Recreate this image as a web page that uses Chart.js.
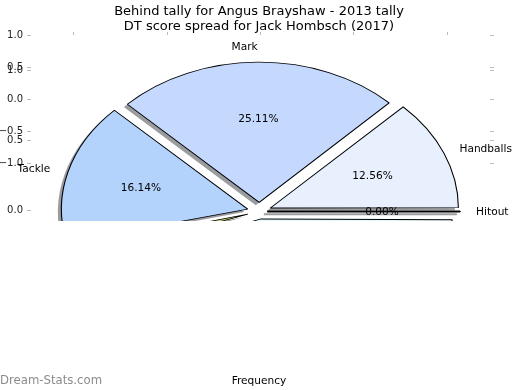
<!DOCTYPE html>
<html>
<head>
<meta charset="utf-8">
<script src="https://cdn.jsdelivr.net/npm/chart.js@4.4.0/dist/chart.umd.min.js"></script>
<style>
  body { margin: 0; background: #fff; }
  #wrap { position: relative; width: 520px; height: 390px; overflow: hidden; font-family: "DejaVu Sans", sans-serif; }
  canvas { position: absolute; left: 0; top: 0; }
  .clip { position: absolute; left: 0; top: 0; width: 520px; height: 221px; overflow: hidden; }
  .txt { position: absolute; white-space: nowrap; color: #000; }
</style>
</head>
<body>
<div id="wrap">
  <canvas id="axesA" width="520" height="390"></canvas>
  <div class="clip"><canvas id="axesB" width="520" height="390"></canvas></div>
  <div class="clip"><canvas id="pie" width="520" height="390"></canvas></div>
  <div class="txt" style="left:0;width:518px;top:2.5px;text-align:center;font-size:13px;line-height:15px;">Behind tally for Angus Brayshaw - 2013 tally<br>DT score spread for Jack Hombsch (2017)</div>
  <div class="txt" style="left:0;width:518px;top:373px;text-align:center;font-size:10.6px;line-height:14px;">Frequency</div>
  <div class="txt" style="left:0;top:372px;font-size:11.7px;line-height:16px;color:#8c8c8c;">Dream-Stats.com</div>
</div>
<script>
// pie values (percent of total), counter-clockwise from 3 o'clock
const categories = ["Hitout", "Handballs", "Mark", "Tackle", "Goal", "Kick"];
const shares = [0.002, 12.56, 25.11, 16.14, 1.80, 44.39];

// leftover axis ticks
const yTickValues = [-1, -0.5, 0, 0.5, 1];
const xTickValues = [-1, -0.5, 0, 0.5, 1];

const sliceColors = ["#d9d9d9", "#e9f0fd", "#c5d8fd", "#b4d3fc", "#c8d67e", "#e0fbfb"];
const sliceOffsets = [32, 48, 48, 48, 48, 40];
const SQUASH = 0.76;
const EXPLODE = 12;

const tickFont = { family: "DejaVu Sans", size: 10 };
const fmtTick = v => v.toFixed(1).replace("-", "\u2212");
const setTicks = vals => s => { s.ticks = vals.map(v => ({ value: v })); };

function makeAxes(id, padTop, padBottom, topTicks) {
  const marks = { drawOnChartArea: false, drawTicks: true, tickLength: 4, color: "#bbb" };
  new Chart(document.getElementById(id), {
    type: "scatter",
    data: { datasets: [] },
    options: {
      responsive: false,
      animation: false,
      events: [],
      layout: { padding: { top: padTop, bottom: padBottom, left: 0, right: 26 } },
      plugins: { legend: { display: false }, tooltip: { enabled: false } },
      scales: {
        x: {
          type: "linear", position: "top", display: topTicks,
          min: -1.23, max: 1.23,
          afterBuildTicks: setTicks(xTickValues),
          afterFit: s => { s.height = 0; },
          ticks: { display: false },
          grid: Object.assign({}, marks, { tickLength: 3 }),
          border: { display: false }
        },
        y: {
          type: "linear", position: "left", min: -1, max: 1,
          afterBuildTicks: setTicks(yTickValues),
          afterFit: s => { s.width = 31; },
          ticks: { font: tickFont, color: "#222", padding: 4, callback: fmtTick },
          grid: marks,
          border: { display: false }
        },
        y2: {
          type: "linear", position: "right", min: -1, max: 1,
          afterBuildTicks: setTicks(yTickValues),
          afterFit: s => { s.width = 4; },
          ticks: { display: false },
          grid: marks,
          border: { display: false }
        }
      }
    }
  });
}

makeAxes("axesA", 35, 227, true);
makeAxes("axesB", 70, 40, false);

// squash the pie into an ellipse, lay a drop shadow under the wedges, then write the labels
const ellipse = {
  id: "ellipse",
  beforeDatasetsDraw(chart) {
    const ctx = chart.ctx;
    const arcs = chart.getDatasetMeta(0).data;
    const a = arcs[0];
    ctx.save();
    ctx.translate(a.x, a.y);
    ctx.scale(1, SQUASH);
    ctx.translate(-a.x, -a.y);
    ctx.save();
    ctx.shadowColor = "rgba(30,35,45,0.45)";
    ctx.shadowOffsetX = -3.5;
    ctx.shadowOffsetY = 2.8;
    ctx.shadowBlur = 0;
    arcs.forEach(arc => {
      // a zero-width wedge only has its edge to cast a shadow
      const thin = arc.circumference < 0.01;
      const ghost = Object.create(arc);
      ghost.options = Object.assign({}, arc.options, { borderWidth: thin ? 2.5 : 0 });
      ghost.draw(ctx);
    });
    ctx.restore();
  },
  afterDatasetsDraw(chart) {
    const ctx = chart.ctx;
    ctx.restore();
    const ds = chart.data.datasets[0];
    const total = ds.data.reduce((a, b) => a + b, 0);
    ctx.save();
    ctx.font = "10.6px 'DejaVu Sans'";
    ctx.fillStyle = "#000";
    ctx.textBaseline = "middle";
    chart.getDatasetMeta(0).data.forEach((arc, i) => {
      const mid = (arc.startAngle + arc.endAngle) / 2;
      const c = Math.cos(mid), s = Math.sin(mid);
      const at = f => {
        const d = EXPLODE + f * arc.outerRadius;
        return [arc.x + c * d, arc.y + s * d * SQUASH + 1];
      };
      let p = at(1.11);
      ctx.textAlign = c > 0 ? "left" : "right";
      ctx.fillText(chart.data.labels[i], p[0], p[1]);
      p = at(0.6);
      ctx.textAlign = "center";
      ctx.fillText((ds.data[i] / total * 100).toFixed(2) + "%", p[0], p[1]);
    });
    ctx.restore();
  }
};

// chart.js goes clockwise, so feed the slices in reverse
const order = categories.map((_, i) => i).reverse();

new Chart(document.getElementById("pie"), {
  type: "pie",
  data: {
    labels: order.map(i => categories[i]),
    datasets: [{
      data: order.map(i => shares[i]),
      backgroundColor: order.map(i => sliceColors[i]),
      offset: order.map(i => sliceOffsets[i]),
      borderColor: "#000",
      borderWidth: 1.1,
      hoverOffset: 0,
      radius: 184.5,
      clip: false
    }]
  },
  options: {
    responsive: false,
    animation: false,
    events: [],
    rotation: 90,
    radius: 184.5,
    layout: { padding: { left: 0, right: 1.4, top: 33, bottom: 0 } },
    plugins: { legend: { display: false }, tooltip: { enabled: false } }
  },
  plugins: [ellipse]
});
</script>
</body>
</html>
